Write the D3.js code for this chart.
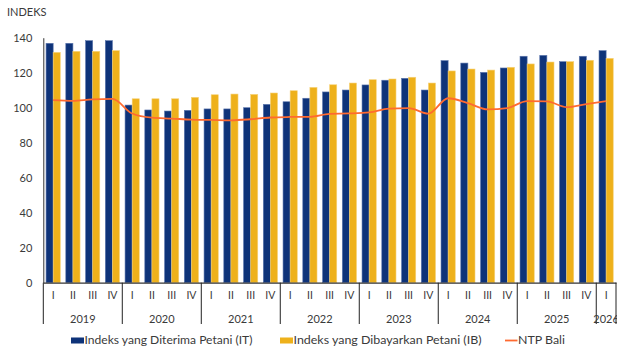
<!DOCTYPE html>
<html><head><meta charset="utf-8">
<script src="https://cdn.jsdelivr.net/npm/d3@7"></script>
<style>
html,body{margin:0;padding:0;background:#fff;}
svg{display:block;font-family:Lato,"Open Sans",sans-serif;}
</style></head>
<body>
<svg id="c" width="617" height="348"></svg>
<script>
const years = ["2019","2020","2021","2022","2023","2024","2025","2026"];
const quarters = ["I","II","III","IV"];
const periods = [];
years.forEach(y => quarters.forEach(q => { if (y !== "2026" || q === "I") periods.push({year: y, q: q}); }));
const itValues = [136.8,136.8,138.3,138.3, 101.5,98.7,98.1,98.5, 99.3,99.3,100.0,101.9, 103.4,105.4,109.0,110.1, 113.0,115.7,116.8,110.1, 126.9,125.5,120.2,122.7, 129.4,129.9,126.3,129.4, 132.6];
const ibValues = [131.6,132.2,132.2,132.6, 105.1,105.1,105.1,105.9, 107.4,107.8,107.6,108.4, 109.7,111.6,113.1,114.1, 116.0,116.4,117.4,114.1, 121.0,122.1,121.5,123.1, 125.0,126.1,126.3,127.1, 128.2];
const ntpValues = [104.3,103.9,104.8,105.0, 96.7,94.3,93.8,93.2, 93.0,92.8,93.4,94.4, 94.7,94.8,96.5,96.7, 97.3,99.5,99.8,96.6, 105.4,102.6,99.0,99.8, 103.8,103.6,100.3,102.1, 103.8];
const tickValues = [0,20,40,60,80,100,120,140];
const seriesNames = ["Indeks yang Diterima Petani (IT)","Indeks yang Dibayarkan Petani (IB)","NTP Bali"];
const yTitle = "INDEKS";

const colIT = "#0e3379", colIB = "#eeb11b", colNTP = "#ff6a30", txt = "#3a3a3a";
const L = 43.3, R = 616, T = 37.7, B = 282.7;
const svg = d3.select("#c");
const keys = periods.map(p => p.year + "-" + p.q);
const x = d3.scaleBand().domain(keys).range([L, R]).padding(0);
const y = d3.scaleLinear().domain([0, 140]).range([B, T]);
const bw = x.bandwidth() * 0.36;

// y labels
svg.append("text").attr("x", 7).attr("y", 16).attr("fill", txt).attr("font-size", 11).text(yTitle);
const yAxis = svg.append("g").attr("transform", `translate(${L},0)`)
  .call(d3.axisLeft(y).tickValues(tickValues).tickSize(0).tickPadding(11));
yAxis.select(".domain").attr("stroke", "#333").attr("stroke-width", 1);
yAxis.selectAll("text").attr("fill", txt).attr("font-size", 11).attr("font-family", "Lato");

// bars
const data = periods.map((p, i) => ({k: keys[i], it: itValues[i], ib: ibValues[i], ntp: ntpValues[i]}));
svg.append("g").selectAll("rect").data(data).join("rect")
  .attr("x", d => x(d.k) + x.bandwidth()/2 - bw).attr("width", bw)
  .attr("y", d => y(d.it)).attr("height", d => B - y(d.it))
  .attr("fill", colIT).attr("stroke", "#5d77ae").attr("stroke-width", 0.6);
svg.append("g").selectAll("rect").data(data).join("rect")
  .attr("x", d => x(d.k) + x.bandwidth()/2).attr("width", bw)
  .attr("y", d => y(d.ib)).attr("height", d => B - y(d.ib))
  .attr("fill", colIB).attr("stroke", "#f6d27a").attr("stroke-width", 0.6);

// line
const line = d3.line().x(d => x(d.k) + x.bandwidth()/2).y(d => y(d.ntp)).curve(d3.curveMonotoneX);
svg.append("path").datum(data).attr("d", line).attr("fill", "none").attr("stroke", colNTP).attr("stroke-width", 1.8);

// x axis
const xAxis = svg.append("g").attr("transform", `translate(0,${B})`)
  .call(d3.axisBottom(x).tickSize(0).tickPadding(9).tickFormat(k => k.split("-")[1]));
xAxis.select(".domain").attr("stroke", "#333").attr("stroke-width", 1.2);
xAxis.selectAll("text").attr("fill", txt).attr("font-size", 10.5).attr("font-family", "Lato");

// year separators and labels
const bounds = [];
years.forEach(yr => {
  const ks = keys.filter(k => k.startsWith(yr));
  bounds.push({yr, x0: x(ks[0]), x1: x(ks[ks.length-1]) + x.bandwidth()});
});
const sepX = [bounds[0].x0].concat(bounds.map(b => b.x1));
svg.append("g").selectAll("line").data(sepX).join("line")
  .attr("x1", d => d).attr("x2", d => d).attr("y1", B).attr("y2", 324)
  .attr("stroke", "#222").attr("stroke-width", 1);
svg.append("g").selectAll("text").data(bounds).join("text")
  .attr("x", d => (d.x0 + d.x1)/2).attr("y", 323).attr("text-anchor", "middle")
  .attr("fill", txt).attr("font-size", 11).text(d => d.yr);

// legend
const lg = svg.append("g");
lg.append("rect").attr("x", 71).attr("y", 337.5).attr("width", 13).attr("height", 6).attr("fill", colIT);
lg.append("text").attr("x", 84.5).attr("y", 344).attr("fill", txt).attr("font-size", 11)
  .attr("textLength", 168).attr("lengthAdjust", "spacingAndGlyphs").text(seriesNames[0]);
lg.append("rect").attr("x", 280).attr("y", 337.5).attr("width", 13).attr("height", 6).attr("fill", colIB);
lg.append("text").attr("x", 293.5).attr("y", 344).attr("fill", txt).attr("font-size", 11)
  .attr("textLength", 188).attr("lengthAdjust", "spacingAndGlyphs").text(seriesNames[1]);
lg.append("line").attr("x1", 505).attr("x2", 517.5).attr("y1", 340.5).attr("y2", 340.5).attr("stroke", colNTP).attr("stroke-width", 1.8);
lg.append("text").attr("x", 518).attr("y", 344).attr("fill", txt).attr("font-size", 11)
  .attr("textLength", 47).attr("lengthAdjust", "spacingAndGlyphs").text(seriesNames[2]);
</script>
</body></html>
